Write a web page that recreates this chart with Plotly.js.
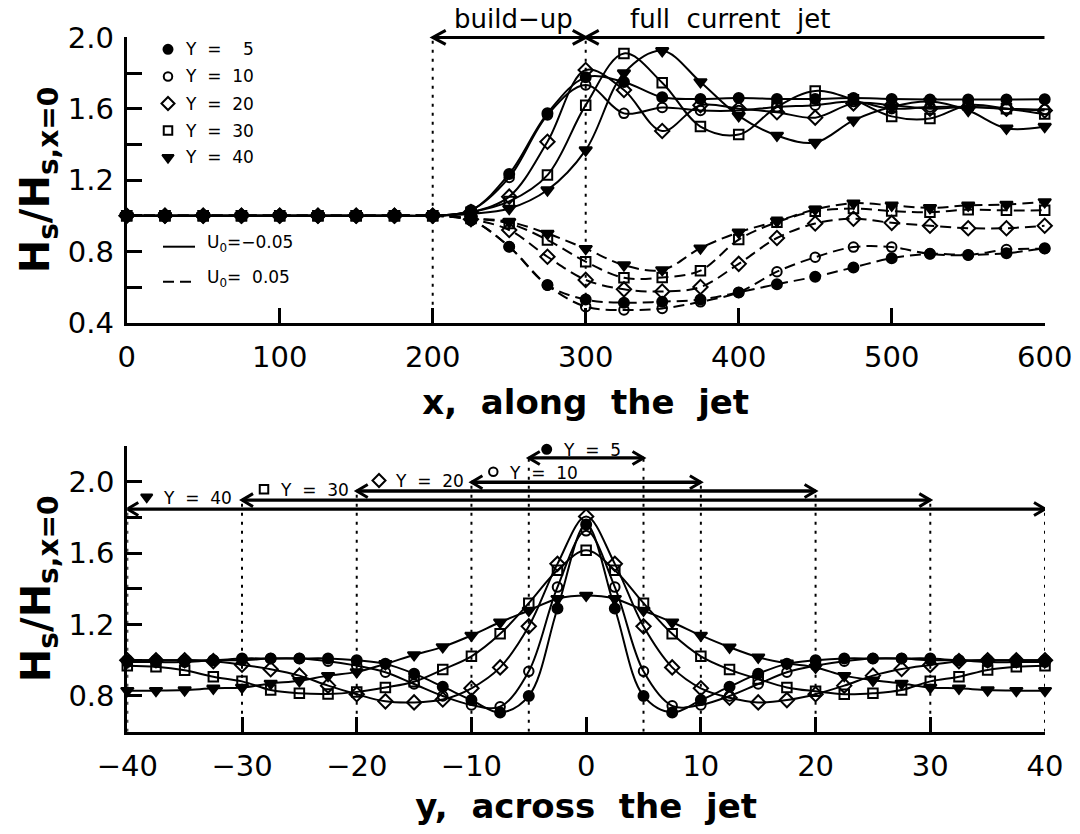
<!DOCTYPE html>
<html><head><meta charset="utf-8">
<script src="https://cdn.plot.ly/plotly-3.0.1.min.js"></script>
<style>html,body{margin:0;padding:0;background:#fff}#chart{width:1080px;height:834px}</style>
</head><body><div id="chart"></div>
<script>
// ---------- data: top panel (along the jet) ----------
const xAlong = [0,25,50,75,100,125,150,175,200,225,250,275,300,325,350,375,400,425,450,475,500,525,550,575,600];
const neg_Y5  = [1,1,1,1,1,1,1,1,1,1.03,1.234,1.574,1.776,1.75,1.664,1.655,1.66,1.655,1.655,1.66,1.655,1.652,1.652,1.652,1.653];
const neg_Y10 = [1,1,1,1,1,1,1,1,1,1.03,1.215,1.565,1.733,1.574,1.607,1.59,1.59,1.61,1.62,1.64,1.60,1.61,1.61,1.60,1.595];
const neg_Y20 = [1,1,1,1,1,1,1,1,1,1.02,1.107,1.415,1.817,1.705,1.475,1.62,1.60,1.58,1.55,1.63,1.62,1.60,1.61,1.60,1.59];
const neg_Y30 = [1,1,1,1,1,1,1,1,1,1.02,1.08,1.228,1.62,1.91,1.746,1.50,1.455,1.61,1.70,1.65,1.557,1.545,1.62,1.60,1.57];
const neg_Y40 = [1,1,1,1,1,1,1,1,1,1.01,1.04,1.144,1.368,1.80,1.925,1.75,1.56,1.45,1.41,1.535,1.61,1.64,1.59,1.49,1.50];
const pos_Y5  = [1,1,1,1,1,1,1,1,1,0.975,0.826,0.611,0.53,0.512,0.518,0.53,0.57,0.616,0.658,0.71,0.762,0.786,0.78,0.79,0.818];
const pos_Y10 = [1,1,1,1,1,1,1,1,1,0.975,0.826,0.61,0.49,0.471,0.48,0.517,0.57,0.686,0.767,0.824,0.824,0.786,0.78,0.81,0.815];
const pos_Y20 = [1,1,1,1,1,1,1,1,1,0.98,0.92,0.77,0.64,0.587,0.575,0.60,0.73,0.875,0.956,0.983,0.96,0.944,0.93,0.93,0.944];
const pos_Y30 = [1,1,1,1,1,1,1,1,1,0.985,0.957,0.864,0.742,0.652,0.654,0.692,0.866,0.964,1.025,1.04,1.026,1.02,1.034,1.03,1.03];
const pos_Y40 = [1,1,1,1,1,1,1,1,1,0.985,0.966,0.90,0.815,0.723,0.696,0.818,0.907,0.969,1.035,1.07,1.058,1.044,1.058,1.063,1.077];

// ---------- data: bottom panel (across the jet) ----------
const yAcross = [-40,-37.5,-35,-32.5,-30,-27.5,-25,-22.5,-20,-17.5,-15,-12.5,-10,-7.5,-5,-2.5,0,2.5,5,7.5,10,12.5,15,17.5,20,22.5,25,27.5,30,32.5,35,37.5,40];
const cross_Y5  = [1.00,1.00,1.00,1.00,1.01,1.01,1.01,1.01,1.00,0.98,0.925,0.852,0.777,0.708,0.80,1.29,1.76,1.29,0.80,0.708,0.777,0.852,0.925,0.98,1.00,1.01,1.01,1.01,1.01,1.00,1.00,1.00,1.00];
const cross_Y10 = [0.99,0.99,0.99,1.00,1.00,1.01,1.01,0.995,0.97,0.933,0.867,0.80,0.75,0.74,0.938,1.41,1.725,1.41,0.938,0.745,0.75,0.80,0.867,0.933,0.97,0.995,1.01,1.01,1.00,1.00,0.99,0.99,0.99];
const cross_Y20 = [1.00,1.00,1.00,0.995,0.975,0.95,0.914,0.858,0.81,0.77,0.764,0.78,0.843,0.96,1.19,1.54,1.805,1.54,1.19,0.96,0.843,0.79,0.764,0.777,0.81,0.858,0.914,0.951,0.974,0.995,1.00,1.00,1.00];
const cross_Y30 = [0.97,0.964,0.944,0.908,0.882,0.833,0.815,0.811,0.823,0.848,0.88,0.948,1.022,1.148,1.32,1.504,1.616,1.504,1.32,1.148,1.022,0.948,0.895,0.848,0.826,0.81,0.815,0.833,0.882,0.908,0.946,0.964,0.97];
const cross_Y40 = [0.83,0.83,0.833,0.843,0.848,0.87,0.885,0.914,0.935,0.98,1.03,1.075,1.139,1.213,1.279,1.345,1.363,1.345,1.279,1.213,1.139,1.073,1.017,0.983,0.96,0.914,0.888,0.87,0.848,0.843,0.833,0.83,0.83];

const Yvals = [40, 30, 20, 10, 5];
const U0labels = ['U<sub>0</sub>=\u22120.05', 'U<sub>0</sub>=\u00A0 0.05'];
const phaseEdges = [200, 300, 600];   // build-up starts, full jet starts, end of domain

// ---------- styles ----------
const W = 1080, H = 834;
const FONT = 'DejaVu Sans';
const nb = s => s.replace(/ /g, '\u00A0');
const PX = x => x / W, PY = y => 1 - y / H;
const markerStyle = {
  40: {symbol: 'triangle-down', size: 11},
  30: {symbol: 'square-open', size: 9.5},
  20: {symbol: 'diamond-open', size: 11},
  10: {symbol: 'circle-open', size: 9.5},
  5:  {symbol: 'circle', size: 10}
};
function mk(Y) {
  const m = markerStyle[Y];
  return {symbol: m.symbol, size: m.size, color: '#000', opacity: 1, line: {width: 2, color: '#000'}};
}
const negSeries = {5: neg_Y5, 10: neg_Y10, 20: neg_Y20, 30: neg_Y30, 40: neg_Y40};
const posSeries = {5: pos_Y5, 10: pos_Y10, 20: pos_Y20, 30: pos_Y30, 40: pos_Y40};
const crossSeries = {5: cross_Y5, 10: cross_Y10, 20: cross_Y20, 30: cross_Y30, 40: cross_Y40};

const traces = [];
Yvals.forEach(Y => {
  traces.push({x: xAlong, y: posSeries[Y], xaxis: 'x', yaxis: 'y', mode: 'lines+markers',
    line: {color: '#000', width: 2, shape: 'spline', smoothing: 1, dash: '11px,6px'},
    marker: mk(Y), cliponaxis: false, showlegend: false, hoverinfo: 'skip', name: 'U0=0.05, Y=' + Y});
});
Yvals.forEach(Y => {
  traces.push({x: xAlong, y: negSeries[Y], xaxis: 'x', yaxis: 'y', mode: 'lines+markers',
    line: {color: '#000', width: 2, shape: 'spline', smoothing: 1},
    marker: mk(Y), cliponaxis: false, showlegend: false, hoverinfo: 'skip', name: 'U0=-0.05, Y=' + Y});
});
Yvals.forEach(Y => {
  traces.push({x: yAcross, y: crossSeries[Y], xaxis: 'x2', yaxis: 'y2', mode: 'lines+markers',
    line: {color: '#000', width: 2, shape: 'spline', smoothing: 1},
    marker: mk(Y), cliponaxis: false, showlegend: false, hoverinfo: 'skip', name: 'Y=' + Y});
});

// legend / label symbols on a pixel overlay axis
const legY = {5: 49.3, 10: 76.5, 20: 103.5, 30: 130.5, 40: 157.5};
const labPos = {40: [146.7, 497], 30: [264, 489.3], 20: [379, 480.5], 10: [493.3, 471.7], 5: [546.7, 449.3]};
const symOrder = [5, 10, 20, 30, 40];
traces.push({
  x: symOrder.map(() => 168).concat(symOrder.map(Y => labPos[Y][0])),
  y: symOrder.map(Y => legY[Y]).concat(symOrder.map(Y => labPos[Y][1])),
  xaxis: 'x3', yaxis: 'y3', mode: 'markers', showlegend: false, hoverinfo: 'skip', cliponaxis: false,
  marker: {
    symbol: symOrder.map(Y => markerStyle[Y].symbol).concat(symOrder.map(Y => markerStyle[Y].symbol)),
    size: symOrder.map(Y => markerStyle[Y].size - 1).concat(symOrder.map(Y => markerStyle[Y].size - 1)),
    color: '#000', opacity: 1, line: {width: 2, color: '#000'}
  }
});

const axisCommon = {
  showline: true, linewidth: 3, linecolor: '#000', mirror: false,
  ticks: 'inside', ticklen: 15, tickwidth: 3, tickcolor: '#000',
  showgrid: false, zeroline: false, fixedrange: true,
  tickfont: {family: FONT, size: 29, color: '#000'}
};
const titleFontX = {family: FONT, size: 34, color: '#000', weight: 'bold'};
const titleFontY = {family: FONT, size: 40, color: '#000', weight: 'bold'};
const yTitle = 'H<sub>s</sub>/H<sub>s,x=0</sub>';

const layout = {
  width: W, height: H, margin: {l: 0, r: 0, t: 0, b: 0},
  paper_bgcolor: 'white', plot_bgcolor: 'rgba(0,0,0,0)', showlegend: false,
  xaxis: Object.assign({}, axisCommon, {
    domain: [126.7 / W, 1044.7 / W], range: [0, 600], dtick: 100, tick0: 0, anchor: 'y',
    ticklabelstandoff: 6,
    title: {text: nb('x,  along  the  jet'), font: titleFontX, standoff: 18}
  }),
  yaxis: Object.assign({}, axisCommon, {
    domain: [PY(322.7), PY(37.4)], range: [0.4, 2.0], dtick: 0.4, tick0: 0.4, tickformat: '.1f', anchor: 'x',
    minor: {dtick: 0.2, tick0: 0.4, ticks: 'inside', ticklen: 15, tickwidth: 3, tickcolor: '#000'},
    ticklabelstandoff: 4,
    title: {text: yTitle, font: titleFontY, standoff: 6}
  }),
  xaxis2: Object.assign({}, axisCommon, {
    domain: [127.3 / W, 1045 / W], range: [-40, 40], dtick: 10, tick0: 0, anchor: 'y2',
    ticklabelstandoff: 6,
    title: {text: nb('y,  across  the  jet'), font: titleFontX, standoff: 13}
  }),
  yaxis2: Object.assign({}, axisCommon, {
    domain: [PY(731.7), PY(446)], range: [0.6, 2.2], dtick: 0.4, tick0: 0.8, tickformat: '.1f', anchor: 'x2',
    minor: {dtick: 0.2, tick0: 0.6, ticks: 'inside', ticklen: 15, tickwidth: 3, tickcolor: '#000'},
    ticklabelstandoff: 4,
    title: {text: yTitle, font: titleFontY, standoff: 6}
  }),
  xaxis3: {domain: [0, 1], range: [0, W], visible: false, fixedrange: true, anchor: 'y3'},
  yaxis3: {domain: [0, 1], range: [H, 0], visible: false, fixedrange: true, anchor: 'x3'},
  shapes: [],
  annotations: []
};

const dotted = {color: '#000', width: 2, dash: '3px,6px'};
const arrowLine = w => ({color: '#000', width: w});
// chevron arrowheads drawn in pixel units around an anchor
function chevron(xref, yref, xa, ya, dir, len, half, w) {
  const s = dir === 'left' ? 1 : -1;
  return {type: 'path', xref: xref, yref: yref, xsizemode: 'pixel', ysizemode: 'pixel', xanchor: xa, yanchor: ya,
    path: 'M' + (s * len) + ',' + half + ' L0,0 L' + (s * len) + ',' + (-half),
    line: arrowLine(w), fillcolor: 'rgba(0,0,0,0)'};
}

// top panel: dotted phase boundaries
[phaseEdges[0], phaseEdges[1]].forEach(xb => layout.shapes.push({type: 'line', xref: 'x', yref: 'y', x0: xb, x1: xb, y0: 0.4, y1: 2.0, line: dotted, layer: 'below'}));
// build-up / full-jet arrows (y in paper units so they are not clipped at the top of the axes)
const topArrowY = PY(37.4);
layout.shapes.push({type: 'line', xref: 'x', yref: 'paper', x0: phaseEdges[0], x1: phaseEdges[2], y0: topArrowY, y1: topArrowY, line: arrowLine(3)});
layout.shapes.push(chevron('x', 'paper', phaseEdges[0], topArrowY, 'left', 13, 7, 3));
layout.shapes.push(chevron('x', 'paper', phaseEdges[1], topArrowY, 'right', 13, 7, 3));
layout.shapes.push(chevron('x', 'paper', phaseEdges[1], topArrowY, 'left', 13, 7, 3));
// top legend line samples
layout.shapes.push({type: 'line', xref: 'paper', yref: 'paper', x0: PX(163), x1: PX(195), y0: PY(246.7), y1: PY(246.7), line: {color: '#000', width: 2}});
layout.shapes.push({type: 'line', xref: 'paper', yref: 'paper', x0: PX(163), x1: PX(195), y0: PY(281.7), y1: PY(281.7), line: {color: '#000', width: 2, dash: '11px,6px'}});

layout.annotations.push({xref: 'paper', yref: 'paper', x: PX(513), y: PY(19), text: 'build\u2212up', showarrow: false,
  xanchor: 'center', yanchor: 'middle', font: {family: FONT, size: 26, color: '#000'}});
layout.annotations.push({xref: 'paper', yref: 'paper', x: PX(730), y: PY(19), text: nb('full  current  jet'), showarrow: false,
  xanchor: 'center', yanchor: 'middle', font: {family: FONT, size: 26, color: '#000'}});

// top legend texts
const legFont = {family: FONT, size: 17, color: '#000'};
const legText = {5: 'Y  =    5', 10: 'Y  =  10', 20: 'Y  =  20', 30: 'Y  =  30', 40: 'Y  =  40'};
symOrder.forEach(Y => layout.annotations.push({xref: 'paper', yref: 'paper', x: PX(183), y: PY(legY[Y]), text: nb(legText[Y]),
  showarrow: false, xanchor: 'left', yanchor: 'middle', font: legFont}));
layout.annotations.push({xref: 'paper', yref: 'paper', x: PX(205), y: PY(244), text: U0labels[0], showarrow: false,
  xanchor: 'left', yanchor: 'middle', font: legFont});
layout.annotations.push({xref: 'paper', yref: 'paper', x: PX(205), y: PY(279), text: U0labels[1], showarrow: false,
  xanchor: 'left', yanchor: 'middle', font: legFont});

// bottom panel: width arrows for each Y, dotted edges, labels
const arrowLevel = {5: 2.133, 10: 1.997, 20: 1.948, 30: 1.897, 40: 1.847};
Yvals.forEach(Y => {
  const lv = arrowLevel[Y];
  layout.shapes.push({type: 'line', xref: 'x2', yref: 'y2', x0: -Y, x1: Y, y0: lv, y1: lv, line: arrowLine(3.3)});
  layout.shapes.push(chevron('x2', 'y2', -Y, lv, 'left', 11, 6.5, 3));
  layout.shapes.push(chevron('x2', 'y2', Y, lv, 'right', 11, 6.5, 3));
  [-Y, Y].forEach(xb => layout.shapes.push({type: 'line', xref: 'x2', yref: 'y2', x0: xb, x1: xb, y0: 0.6, y1: lv,
    line: dotted, layer: 'below'}));
  layout.annotations.push({xref: 'paper', yref: 'paper', x: PX(labPos[Y][0] + 14), y: PY(labPos[Y][1] + 1),
    text: nb('Y  =  ' + Y), showarrow: false, xanchor: 'left', yanchor: 'middle', font: legFont});
});

Plotly.newPlot('chart', traces, layout, {staticPlot: true, displayModeBar: false});
</script>
</body></html>
